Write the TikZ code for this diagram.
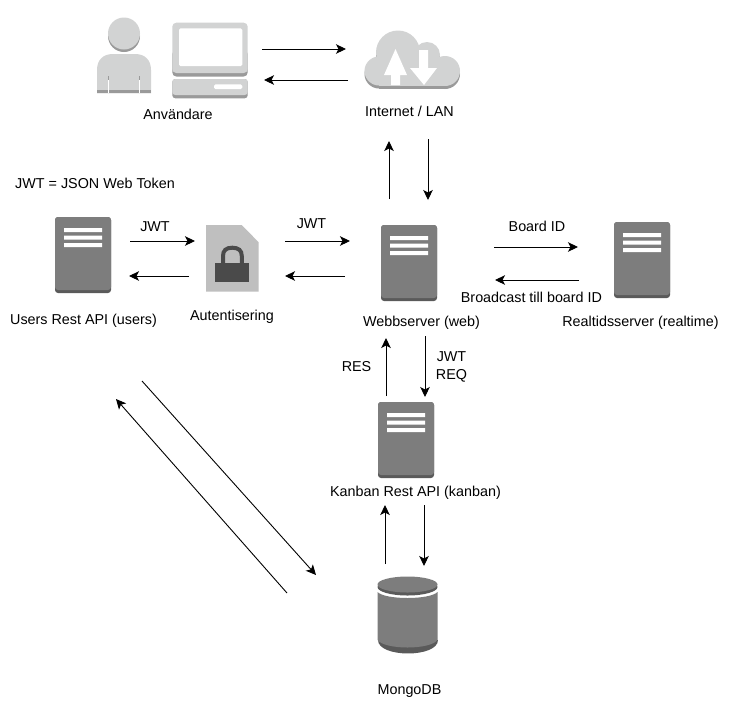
\documentclass[tikz,border=0pt]{standalone}
\usepackage{fontspec}
\setmainfont{Liberation Sans}
\usetikzlibrary{arrows.meta}
\definecolor{darkfill}{HTML}{7D7D7D}
\definecolor{darkshade}{HTML}{5A5A5A}
\definecolor{lightfill}{HTML}{D2D3D3}
\definecolor{lightshade}{HTML}{9A9A9A}
\definecolor{docfill}{HTML}{BFBFBF}
\definecolor{lockfill}{HTML}{4A4A4A}
\tikzset{
  x=1pt,y=-1pt,
  flow/.style={draw=black,line width=0.9pt,-{Stealth[length=10pt,width=9.5pt,inset=2.5pt]}},
  lbl/.style={inner sep=0pt,font=\fontsize{14.35}{17.5}\selectfont,text=black,align=center},
  serverpic/.pic={
    \fill[darkshade,rounded corners=3pt] (0,0) rectangle (56,76);
    \fill[darkfill,rounded corners=3pt] (0,0) rectangle (56,73);
    \fill[white] (9,11) rectangle (47,15) (9,18.5) rectangle (47,22.5) (9,26) rectangle (47,30);
  },
  cloudpic/.pic={
    \fill[pic actions] (398,52.5) circle[radius=22];
    \fill[pic actions] (427,55) circle[radius=13];
    \fill[pic actions] (379,71) circle[radius=14.5];
    \fill[pic actions] (445,71) circle[radius=15];
    \fill[pic actions] (379,60) rectangle (445,86);
  }
}
\begin{document}
\begin{tikzpicture}
\useasboundingbox (0,0) rectangle (731,716);
\fill[white] (0,0) rectangle (731,716);

% person
\fill[lightshade] (124,36) circle[radius=16];
\fill[lightfill] (124,33.5) circle[radius=16];
\fill[lightfill] (97,93.3) -- (97,70) .. controls (97,60) and (103,54) .. (113,54) -- (135,54) .. controls (145,54) and (151,60) .. (151,70) -- (151,93.3) -- cycle;
\fill[lightshade] (97,89.8) rectangle (151,93.3);
\draw[white,line width=1pt] (108.3,80) -- (108.3,93.3) (139.7,80) -- (139.7,93.3);
\draw[lightshade,line width=1pt] (108.3,76) -- (108.3,80) (139.7,76) -- (139.7,80);

% computer
\fill[lightshade,rounded corners=4pt] (172.3,50) rectangle (247.7,76.5);
\fill[lightfill,rounded corners=4pt] (172.3,22.7) rectangle (247.7,73);
\fill[white,rounded corners=1.5pt] (179,28.3) rectangle (242.3,66);
\fill[lightshade,rounded corners=3pt] (172.3,79) rectangle (247.7,98.3);
\fill[lightfill,rounded corners=3pt] (172.3,79) rectangle (247.7,95);
\fill[white,rounded corners=1.5pt] (214,84.3) rectangle (242.3,89);

% cloud
\pic[lightshade] at (0,3) {cloudpic};
\pic[lightfill] at (0,0) {cloudpic};
\fill[white] (395.5,49) -- (407,75) -- (400,75) -- (400,85) -- (391,85) -- (391,75) -- (384,75) -- cycle;
\fill[white] (419,50) -- (428,50) -- (428,68) -- (437,68) -- (424,85) -- (410,68) -- (419,68) -- cycle;

% document with lock
\fill[docfill] (206,225) -- (241.7,225) -- (258.7,242.3) -- (258.7,291.7) -- (206,291.7) -- cycle;
\draw[lockfill,line width=4pt] (223,264) -- (223,256) .. controls (223,250.5) and (226,247.7) .. (232.3,247.7) .. controls (238.6,247.7) and (241.8,250.5) .. (241.8,256) -- (241.8,264);
\fill[lockfill] (215.3,263.3) rectangle (249,282);

% servers
\pic at (55,217) {serverpic};
\pic at (381,225) {serverpic};
\pic at (614,222) {serverpic};
\pic at (378,402) {serverpic};

% database
\fill[darkshade] (377.5,640) .. controls (377.5,658) and (437.5,658) .. (437.5,640) -- cycle;
\fill[darkfill] (377.5,592) .. controls (385,600) and (430,600) .. (437.5,592) -- (437.5,640) .. controls (430,650) and (385,650) .. (377.5,640) -- cycle;
\fill[darkshade] (407.5,587) ellipse[x radius=30,y radius=8.5];
\fill[darkfill] (407.5,584.5) ellipse[x radius=30,y radius=8];

% labels
\node[lbl] (anv) at (178,114) {Användare};
\node[lbl] (inet) at (409.5,111) {Internet / LAN};
\node[lbl,anchor=west] (note) at (15,183) {JWT = JSON Web Token};
\node[lbl] (jwta) at (155,226.5) {JWT};
\node[lbl] (jwtb) at (311.5,223.5) {JWT};
\node[lbl] (boardid) at (537,226.5) {Board ID};
\node[lbl] (users) at (83.5,321) {Users Rest API (users)};
\node[lbl] (auth) at (232,316.5) {Autentisering};
\node[lbl] (web) at (421.5,323) {Webbserver (web)};
\node[lbl] (broad) at (531.5,297) {Broadcast till board ID};
\node[lbl] (rt) at (640.5,322.5) {Realtidsserver (realtime)};
\node[lbl] (res) at (356.5,367) {RES};
\node[lbl] (jwtreq) at (451.5,367) {JWT\\REQ};
\node[lbl] (kanban) at (415.5,492.5) {Kanban Rest API (kanban)};
\node[lbl] (mongo) at (409.5,691.5) {MongoDB};

% connector ends
\coordinate (a1) at (262,49);   \coordinate (b1) at (346,49);
\coordinate (a2) at (348,80);   \coordinate (b2) at (264,80);
\coordinate (a3) at (389,199);  \coordinate (b3) at (389,141);
\coordinate (a4) at (428,139);  \coordinate (b4) at (428,200);
\coordinate (a5) at (130,241);  \coordinate (b5) at (195,241);
\coordinate (a6) at (189,276);  \coordinate (b6) at (129,276);
\coordinate (a7) at (285,241);  \coordinate (b7) at (350,241);
\coordinate (a8) at (345,276);  \coordinate (b8) at (285,276);
\coordinate (a9) at (494,247);  \coordinate (b9) at (578,247);
\coordinate (a10) at (579,280); \coordinate (b10) at (495,280);
\coordinate (a11) at (386,396); \coordinate (b11) at (386,338);
\coordinate (a12) at (425,336); \coordinate (b12) at (425,397);
\coordinate (a13) at (385,564); \coordinate (b13) at (385,505);
\coordinate (a14) at (424,505); \coordinate (b14) at (424,566);
\coordinate (a15) at (142,381); \coordinate (b15) at (316,575);
\coordinate (a16) at (287,593); \coordinate (b16) at (116,399);
\foreach \i in {1,...,16} \draw[flow] (a\i) -- (b\i);
\end{tikzpicture}
\end{document}
